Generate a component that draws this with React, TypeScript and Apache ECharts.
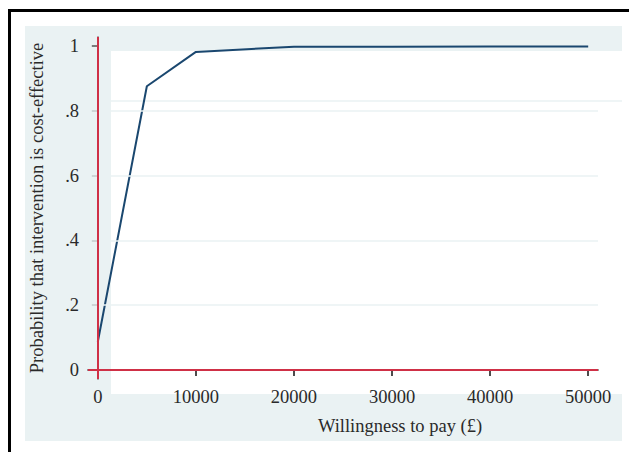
import React, { useEffect, useRef } from "react";
import * as echarts from "echarts";

const wtp = [0, 5000, 10000, 20000, 30000, 40000, 50000];
const probCE = [0.087, 0.876, 0.982, 0.998, 0.998, 0.999, 0.999];
const xTicks = [0, 10000, 20000, 30000, 40000, 50000];
const yTicks = [0, 0.2, 0.4, 0.6, 0.8, 1];
const yGrid = [0.2, 0.4, 0.6, 0.8];

const FONT = "Liberation Serif";
const TXT = "#2a2a2a";
const RED = "#cf3046";
const NAVY = "#1a476f";
const BG = "#eaf2f3";
const FS = 18.5;

function fmtY(v: number): string {
  if (Math.abs(v) < 1e-9) return "0";
  if (Math.abs(v - 1) < 1e-9) return "1";
  return "." + Math.round(v * 10).toString();
}

export default function App() {
  const ref = useRef<HTMLDivElement>(null);
  useEffect(() => {
    document.body.style.margin = "0";
    const chart = echarts.init(ref.current!, undefined, { renderer: "svg" });
    chart.setOption({
      animation: false,
      backgroundColor: "#ffffff",
      textStyle: { fontFamily: FONT },
      graphic: [
        { type: "rect", z: -10, shape: { x: 25, y: 26, width: 597, height: 415 }, style: { fill: BG }, silent: true },
        { type: "rect", z: -9, shape: { x: 111, y: 51, width: 511, height: 343 }, style: { fill: "#ffffff" }, silent: true },
        { type: "line", z: -8, shape: { x1: 111, y1: 101, x2: 622, y2: 101 }, style: { stroke: BG, lineWidth: 1.5 }, silent: true },
        { type: "line", z: 10, shape: { x1: 9.5, y1: 10.5, x2: 629, y2: 10.5 }, style: { stroke: "#000", lineWidth: 3 }, silent: true },
        { type: "line", z: 10, shape: { x1: 9.5, y1: 9, x2: 9.5, y2: 452 }, style: { stroke: "#000", lineWidth: 3 }, silent: true },
      ],
      grid: { left: 88, top: 37, width: 510, height: 342, containLabel: false },
      xAxis: {
        type: "value",
        min: -1000,
        max: 51000,
        name: "Willingness to pay (£)",
        nameLocation: "middle",
        nameGap: 37,
        nameTextStyle: { fontFamily: FONT, fontSize: FS, color: TXT, padding: [0, 0, 0, 114] },
        axisLine: { show: true, lineStyle: { color: "#111", width: 1.5 } },
        axisTick: { show: true, length: 6, lineStyle: { color: "#111", width: 1.5 }, customValues: xTicks },
        axisLabel: { fontFamily: FONT, fontSize: FS, color: TXT, margin: 8, customValues: xTicks, formatter: (v: number) => String(v) },
        splitLine: { show: false },
      },
      yAxis: {
        type: "value",
        min: -0.028,
        max: 1.028,
        name: "Probability that intervention is cost-effective",
        nameLocation: "middle",
        nameGap: 42,
        nameRotate: 90,
        nameTextStyle: { fontFamily: FONT, fontSize: FS, color: TXT },
        axisLine: { show: true, lineStyle: { color: "#555", width: 1.5 } },
        axisTick: { show: true, length: 6, lineStyle: { color: "#555", width: 1.5 }, customValues: yTicks },
        axisLabel: { fontFamily: FONT, fontSize: FS, color: TXT, margin: 9, customValues: yTicks, formatter: (v: number) => fmtY(v) },
        splitLine: { show: false },
      },
      series: [
        {
          type: "line",
          data: [],
          silent: true,
          markLine: {
            silent: true,
            symbol: "none",
            label: { show: false },
            lineStyle: { color: BG, width: 1.5, type: "solid" },
            data: yGrid.map((v) => ({ yAxis: v })),
          },
          z: 1,
        },
        {
          type: "line",
          data: [],
          silent: true,
          markLine: {
            silent: true,
            symbol: "none",
            label: { show: false },
            lineStyle: { color: RED, width: 2, type: "solid" },
            data: [{ xAxis: 0 }, { yAxis: 0 }],
          },
          z: 3,
        },
        {
          type: "line",
          data: wtp.map((x, i) => [x, probCE[i]]),
          showSymbol: false,
          symbol: "none",
          lineStyle: { color: NAVY, width: 2 },
          itemStyle: { color: NAVY },
          z: 4,
        },
      ],
    });
    return () => chart.dispose();
  }, []);
  return <div ref={ref} style={{ width: 629, height: 452 }} />;
}
